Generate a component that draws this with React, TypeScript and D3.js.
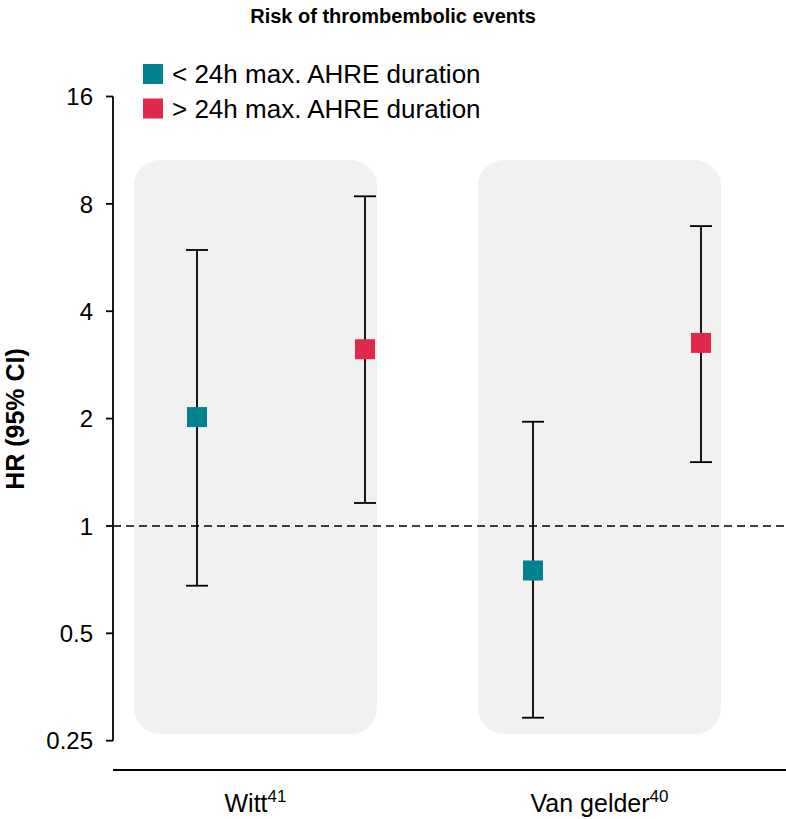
import React from "react";
import * as d3 from "d3";

const categories = ["Witt", "Van gelder"];
const superscripts = ["41", "40"];
const seriesNames = ["< 24h max. AHRE duration", "> 24h max. AHRE duration"];
const seriesColors = ["#00838F", "#E0284A"];
// HR estimates [Witt, Van gelder]
const hrLt = [2.02, 0.75];
const hrGt = [3.13, 3.26];
const lowLt = [0.68, 0.29];
const highLt = [5.94, 1.96];
const lowGt = [1.16, 1.51];
const highGt = [8.4, 6.93];
const yTicks = [0.25, 0.5, 1, 2, 4, 8, 16];

const W = 786;
const H = 819;
const FONT = "'Liberation Sans', Arial, Helvetica, sans-serif";

export default function App() {
  const y = d3.scaleLog().base(2).domain([0.25, 16]).range([740.7, 96.5]);
  // category band centres (for panels and labels)
  const xCat = d3.scalePoint<string>().domain(categories).range([255.5, 599.5]);
  // evenly spaced marker slots: 0..3
  const xSlot = d3.scaleLinear().domain([0, 3]).range([197, 701]);
  const axisX = 113;
  const panelW = 243;
  const panelTop = 160;
  const panelBottom = 734;
  const capW = 22;
  const mk = 20;

  const points: { slot: number; color: string; hr: number; lo: number; hi: number }[] = [];
  categories.forEach((c, i) => {
    points.push({ slot: i * 2, color: seriesColors[0], hr: hrLt[i], lo: lowLt[i], hi: highLt[i] });
    points.push({ slot: i * 2 + 1, color: seriesColors[1], hr: hrGt[i], lo: lowGt[i], hi: highGt[i] });
  });

  return (
    <svg width={W} height={H} style={{ position: "absolute", left: 0, top: 0, background: "#fff" }} fontFamily={FONT}>
      <text x={393} y={23} textAnchor="middle" fontWeight="bold" fontSize={20} fill="#000">
        Risk of thrombembolic events
      </text>

      {/* panels */}
      {categories.map((c) => (
        <rect
          key={c}
          x={(xCat(c) as number) - panelW / 2}
          y={panelTop}
          width={panelW}
          height={panelBottom - panelTop}
          rx={26}
          ry={26}
          fill="#F1F1F1"
        />
      ))}

      {/* reference line at HR = 1 */}
      <line x1={axisX} x2={W} y1={y(1)} y2={y(1)} stroke="#000" strokeWidth={1.5} strokeDasharray="8,5" />

      {/* y axis */}
      <line x1={axisX} x2={axisX} y1={y(16)} y2={y(0.25)} stroke="#000" strokeWidth={1.8} />
      {yTicks.map((t) => (
        <g key={t}>
          <line x1={axisX - 7} x2={axisX} y1={y(t)} y2={y(t)} stroke="#000" strokeWidth={1.8} />
          <text x={93} y={y(t)} dy="0.36em" textAnchor="end" fontSize={24} fill="#000">
            {String(t)}
          </text>
        </g>
      ))}
      <text
        transform={`translate(24,${419}) rotate(-90)`}
        textAnchor="middle"
        fontWeight="bold"
        fontSize={25}
        fill="#000"
      >
        HR (95% CI)
      </text>

      {/* x axis line */}
      <line x1={axisX} x2={W} y1={770} y2={770} stroke="#000" strokeWidth={1.8} />
      {categories.map((c, i) => (
        <text key={c} x={xCat(c) as number} y={812} textAnchor="middle" fontSize={25} fill="#000">
          {c}
          <tspan fontSize={17} dy={-10}>
            {superscripts[i]}
          </tspan>
        </text>
      ))}

      {/* error bars and markers */}
      {points.map((p) => {
        const cx = xSlot(p.slot);
        return (
          <g key={p.slot}>
            <line x1={cx} x2={cx} y1={y(p.hi)} y2={y(p.lo)} stroke="#000" strokeWidth={1.8} />
            <line x1={cx - capW / 2} x2={cx + capW / 2} y1={y(p.hi)} y2={y(p.hi)} stroke="#000" strokeWidth={1.8} />
            <line x1={cx - capW / 2} x2={cx + capW / 2} y1={y(p.lo)} y2={y(p.lo)} stroke="#000" strokeWidth={1.8} />
            <rect x={cx - mk / 2} y={y(p.hr) - mk / 2} width={mk} height={mk} fill={p.color} />
          </g>
        );
      })}

      {/* legend */}
      {seriesNames.map((n, i) => (
        <g key={n}>
          <rect x={143} y={64 + i * 34.5} width={20} height={20} fill={seriesColors[i]} />
          <text x={172} y={83 + i * 34.5} fontSize={26} fill="#000">
            {n}
          </text>
        </g>
      ))}
    </svg>
  );
}
